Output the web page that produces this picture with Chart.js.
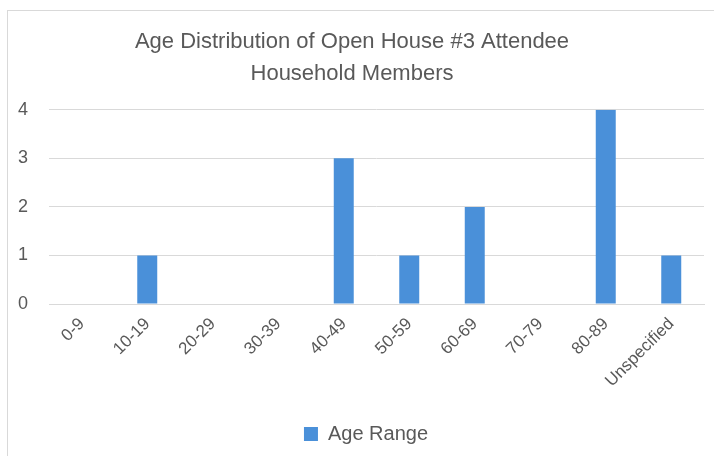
<!DOCTYPE html>
<html>
<head>
<meta charset="utf-8">
<script src="https://cdn.jsdelivr.net/npm/chart.js@4/dist/chart.umd.min.js"></script>
<style>
  html, body { margin: 0; padding: 0; background: #ffffff; overflow: hidden; }
  #frame { position: absolute; left: 7px; top: 10px; width: 900px; height: 700px; border: 1px solid #d9d9d9; box-sizing: border-box; }
  #wrap { position: absolute; left: 0; top: 0; width: 714px; height: 456px; }
</style>
</head>
<body>
<div id="frame"></div>
<div id="wrap"><canvas id="c" width="714" height="456"></canvas></div>
<script>
const titleLines = ['Age Distribution of Open House #3 Attendee', 'Household Members'];
const categories = ['0-9', '10-19', '20-29', '30-39', '40-49', '50-59', '60-69', '70-79', '80-89', 'Unspecified'];
const seriesName = 'Age Range';
const counts = [0, 1, 0, 0, 3, 1, 2, 0, 4, 1];
const yTicks = [0, 1, 2, 3, 4];

const FONT = "'Liberation Sans Narrow', 'Arial Narrow', 'Liberation Sans', Arial, sans-serif";
const GREY = '#595959';

const shiftLegend = {
  id: 'shiftLegend',
  afterLayout(chart) {
    if (chart.legend) { chart.legend.left += 14; chart.legend.right += 14; }
  }
};

new Chart(document.getElementById('c'), {
  type: 'bar',
  data: {
    labels: categories,
    datasets: [{
      label: seriesName,
      data: counts,
      backgroundColor: '#4a90d9',
      borderWidth: 0,
      barPercentage: 0.305,
      categoryPercentage: 1.0
    }]
  },
  plugins: [shiftLegend],
  options: {
    responsive: false,
    animation: false,
    devicePixelRatio: 1,
    layout: { padding: { left: 0, right: 10, top: 0, bottom: 2 } },
    plugins: {
      title: {
        display: true,
        text: titleLines,
        color: GREY,
        font: { family: FONT, size: 22, weight: 'normal', lineHeight: 1.45 },
        padding: { top: 26, bottom: 20 }
      },
      legend: {
        display: true,
        position: 'bottom',
        labels: {
          color: GREY,
          font: { family: FONT, size: 20 },
          boxWidth: 14,
          boxHeight: 14,
          padding: 8
        }
      },
      tooltip: { enabled: false }
    },
    scales: {
      x: {
        afterFit: (s) => { s.height = 112; },
        grid: { display: false, drawTicks: false },
        border: { display: true, color: '#d9d9d9', width: 1 },
        ticks: {
          color: GREY,
          font: { family: FONT, size: 17 },
          maxRotation: 45,
          minRotation: 45,
          padding: 10,
          autoSkip: false
        }
      },
      y: {
        min: 0,
        max: 4,
        afterBuildTicks: (s) => { s.ticks = yTicks.map(v => ({ value: v })); },
        afterFit: (s) => { s.width = 49; },
        grid: { color: '#d9d9d9', drawTicks: false, lineWidth: 1 },
        border: { display: false },
        ticks: {
          color: GREY,
          font: { family: FONT, size: 18 },
          padding: 21
        }
      }
    }
  }
});
</script>
</body>
</html>
